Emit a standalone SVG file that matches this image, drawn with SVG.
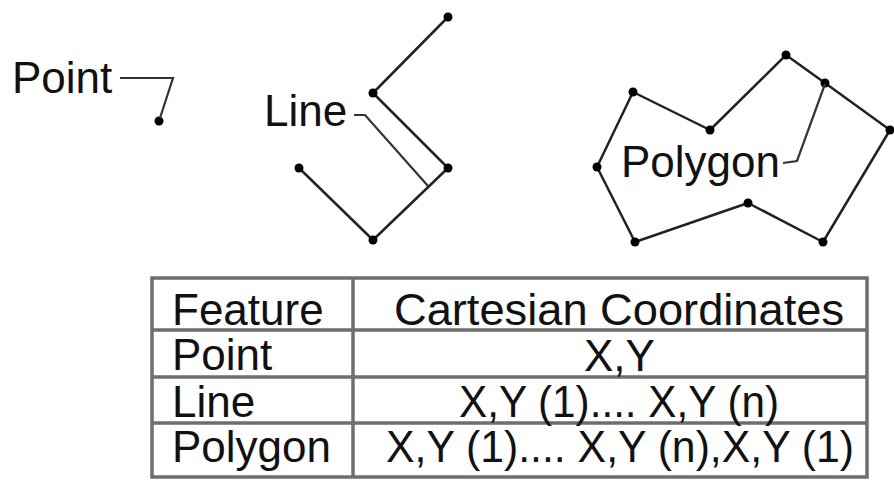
<svg xmlns="http://www.w3.org/2000/svg" width="894" height="481" viewBox="0 0 894 481">
<style>
text{font-family:"Liberation Sans",Arial,sans-serif;font-size:44px;fill:#111}
.geom{fill:none;stroke:#222;stroke-width:2.5;stroke-linejoin:round}
.lead{fill:none;stroke:#333;stroke-width:2.2}
.dot{fill:#000}
.grid{fill:none;stroke:#6e6e6e;stroke-width:3.5}
</style>
<rect width="894" height="481" fill="#fff"/>
<g id="point">
<text x="12" y="93">Point</text>
<circle class="dot" cx="159" cy="121" r="4.5"/>
</g>
<g id="line">
<text x="264" y="126">Line</text>
<polyline class="geom" points="448,17 373,93 448,168 373,240 299,168"/>
<circle class="dot" cx="448" cy="17" r="4.5"/>
<circle class="dot" cx="373" cy="93" r="4.5"/>
<circle class="dot" cx="448" cy="168" r="4.5"/>
<circle class="dot" cx="373" cy="240" r="4.5"/>
<circle class="dot" cx="299" cy="168" r="4.5"/>
</g>
<g id="polygon">
<text x="621" y="177">Polygon</text>
<polygon class="geom" points="786,55 825,83 890,130 823,242 748,203 635,242 597,167 633,92 710,130"/>
<circle class="dot" cx="786" cy="55" r="4.5"/>
<circle class="dot" cx="825" cy="83" r="4.5"/>
<circle class="dot" cx="890" cy="130" r="4.5"/>
<circle class="dot" cx="823" cy="242" r="4.5"/>
<circle class="dot" cx="748" cy="203" r="4.5"/>
<circle class="dot" cx="635" cy="242" r="4.5"/>
<circle class="dot" cx="597" cy="167" r="4.5"/>
<circle class="dot" cx="633" cy="92" r="4.5"/>
<circle class="dot" cx="710" cy="130" r="4.5"/>
</g>
<g id="connectors">
<polyline class="lead" points="120,78 173,78 160,118"/>
<polyline class="lead" points="354,115 365,115 428,186"/>
<polyline class="lead" points="783,163 797,161 825,84"/>
</g>
<g id="table">
<rect class="grid" x="152" y="278" width="715" height="199"/>
<line class="grid" x1="353" y1="278" x2="353" y2="477"/>
<line class="grid" x1="152" y1="330" x2="867" y2="330"/>
<line class="grid" x1="152" y1="377" x2="867" y2="377"/>
<line class="grid" x1="152" y1="423" x2="867" y2="423"/>
<text x="172" y="325">Feature</text>
<text x="172" y="370">Point</text>
<text x="172" y="417">Line</text>
<text x="172" y="462">Polygon</text>
<text x="394" y="325" textLength="450" lengthAdjust="spacingAndGlyphs">Cartesian Coordinates</text>
<text x="584" y="371">X,Y</text>
<text x="459" y="417" textLength="320" lengthAdjust="spacingAndGlyphs">X,Y (1).... X,Y (n)</text>
<text x="386" y="462" textLength="468" lengthAdjust="spacingAndGlyphs">X,Y (1).... X,Y (n),X,Y (1)</text>
</g>
</svg>
